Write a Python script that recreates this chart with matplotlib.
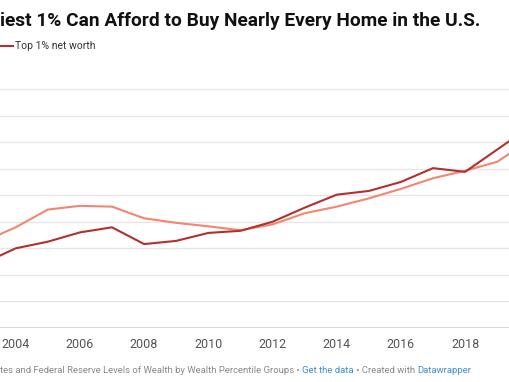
import numpy as np
import matplotlib
matplotlib.use("Agg")
import matplotlib.pyplot as plt

plt.rcParams['font.family'] = ['Roboto', 'DejaVu Sans']

# values in trillions of dollars
years = [2003, 2004, 2005, 2006, 2007, 2008, 2009, 2010, 2011,
         2012, 2013, 2014, 2015, 2016, 2017, 2018, 2019, 2020]
top1_net_worth = [12.2, 15.0, 16.25, 18.0, 18.96, 15.8, 16.4, 17.9, 18.3,
                  20.0, 22.65, 25.1, 25.8, 27.5, 30.1, 29.4, 33.6, 37.8]
home_value = [16.3, 18.96, 22.3, 23.0, 22.85, 20.66, 19.8, 19.15, 18.4,
              19.5, 21.6, 22.85, 24.4, 26.2, 28.2, 29.6, 31.3, 35.3]
grid_values = [5, 10, 15, 20, 25, 30, 35, 40, 45]
xtick_years = [2004, 2006, 2008, 2010, 2012, 2014, 2016, 2018]

dark_red = '#b3302c'
salmon = '#f3866e'
gray = '#888888'
blue = '#3f8ed6'

fig = plt.figure(figsize=(5.10, 3.82), dpi=100)
W, H = 510.0, 382.0

# plot area in pixels (the chart is cropped on both sides)
x0, x1 = -16.4, 529.3
ytop, ybot = 89.0, 328.0
ax = fig.add_axes([x0 / W, 1 - ybot / H, (x1 - x0) / W, (ybot - ytop) / H])
ax.set_xlim(2003, 2020)
ax.set_ylim(0, 45)

ax.plot(years, home_value, color=salmon, lw=1.5, zorder=3)
ax.plot(years, top1_net_worth, color=dark_red, lw=1.5, zorder=4)

for v in grid_values:
    ax.axhline(v, color='#e6e6e6', lw=1.0, zorder=1, clip_on=False)
ax.axhline(0, color='#333333', lw=1.0, zorder=2)

for s in ax.spines.values():
    s.set_visible(False)
ax.set_yticks([])
ax.set_xticks(xtick_years)
ax.set_xticklabels([str(y) for y in xtick_years])
ax.tick_params(axis='x', length=0, pad=7, labelsize=9, labelcolor='#555555')

# title (cropped on the left in the original)
fig.text(0.0, 1 - 25.5 / H, "iest 1% Can Afford to Buy Nearly Every Home in the U.S.",
         ha='left', va='baseline', fontsize=13.8, fontweight='bold', color='#111111')

# legend
fig.add_artist(plt.Line2D([0, 13 / W], [1 - 46 / H, 1 - 46 / H], color=dark_red, lw=1.5))
fig.text(15 / W, 1 - 46 / H, "Top 1% net worth", ha='left', va='center',
         fontsize=7.5, color='#333333')

# source line, pieces chained one after another
parts = [("tes and Federal Reserve Levels of Wealth by Wealth Percentile Groups \u2022 ", gray),
         ("Get the data", blue),
         (" \u2022 Created with ", gray),
         ("Datawrapper", blue)]
last = fig.text(0.0, 1 - 373 / H, parts[0][0], ha='left', va='baseline',
                fontsize=6.8, color=parts[0][1])
for txt, col in parts[1:]:
    last = ax.annotate(txt, xy=(1, 0), xycoords=last, va='bottom', ha='left',
                       fontsize=6.8, color=col, annotation_clip=False)

fig.savefig('out.png', dpi=100)
